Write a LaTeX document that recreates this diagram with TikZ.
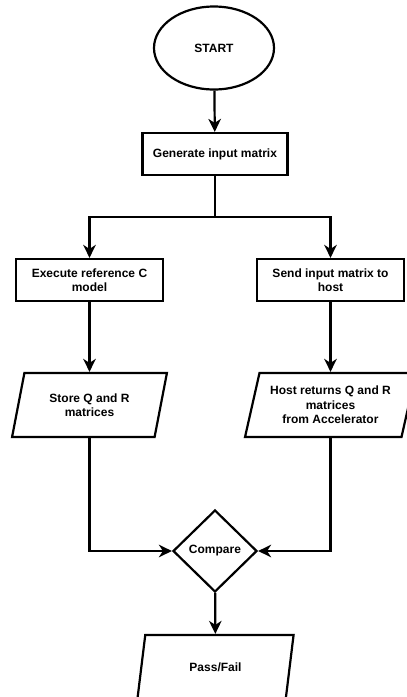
\documentclass[tikz,border=0pt]{standalone}
\usepackage{fontspec}
\setmainfont{Liberation Sans}
\usetikzlibrary{arrows.meta,shapes.geometric}
\tikzset{
  flow/.style={-{Stealth[length=13pt,width=12.5pt,inset=4pt]},line width=2.2pt},
  base/.style={draw,line width=2.2pt,fill=white,font=\fontsize{12}{14.5}\selectfont\bfseries,
               align=center,inner sep=0pt},
  terminal/.style={base,ellipse,minimum width=120pt,minimum height=83pt},
  stepbox/.style={base,rectangle,minimum width=147pt,minimum height=42pt},
  iobox/.style={base,trapezium,trapezium left angle=72,trapezium right angle=108,
                trapezium stretches=true,minimum height=64pt},
  decision/.style={base,diamond,minimum width=84pt,minimum height=82pt},
}
\begin{document}
\begin{tikzpicture}[x=1pt,y=-1pt]
    \useasboundingbox (0,0) rectangle (407,697);
    \node[terminal] (start) at (214,48) {START};
    \node[stepbox,minimum width=145pt] (gen) at (215,154) {Generate input matrix};
    \coordinate (split) at (215,217);
    \node[stepbox] (exe) at (89.5,280) {Execute reference C\\model};
    \node[stepbox] (send) at (330.5,280) {Send input matrix to\\host};
    \node[iobox,minimum width=155pt] (store) at (89.5,405) {Store Q and R\\matrices};
    \node[iobox,minimum width=171pt] (host) at (330.5,405)
      {Host returns Q and R\\matrices\\from Accelerator};
    \node[decision] (cmp) at (215,551) {Compare};
    \node[iobox,minimum width=157pt] (pass) at (215.5,667) {Pass/Fail};

    \draw[flow] (start) -- (gen);
    \draw[flow] (gen.south) -- (split) -| (exe.north);
    \draw[flow] (split) -| (send.north);
    \draw[flow] (exe) -- (store);
    \draw[flow] (send) -- (host);
    \draw[flow] (store.south) |- (cmp.west);
    \draw[flow] (host.south) |- (cmp.east);
    \draw[flow] (cmp) -- (pass);
  \end{tikzpicture}
\end{document}
